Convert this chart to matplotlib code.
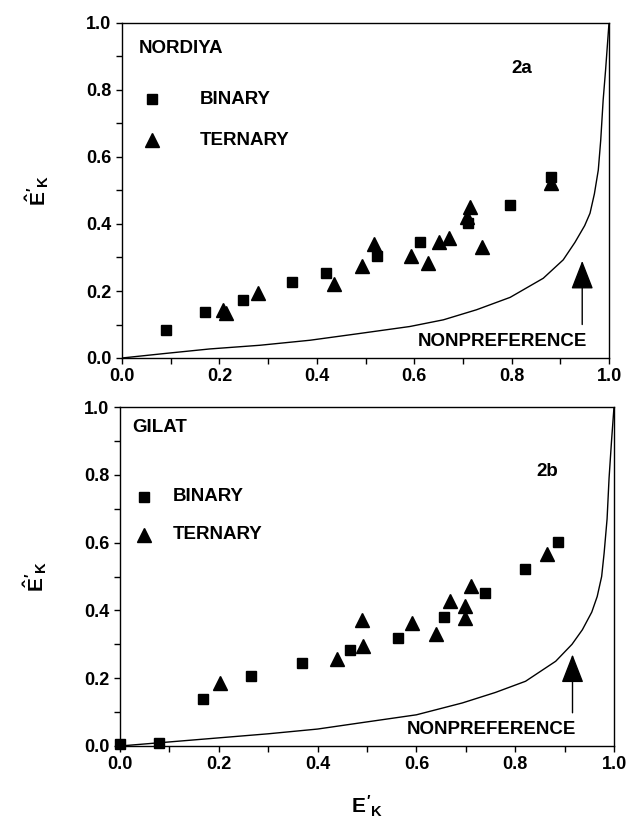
import matplotlib
matplotlib.use("Agg")
import matplotlib.pyplot as plt
from matplotlib.ticker import MultipleLocator, FormatStrFormatter

plt.rcParams["font.family"] = ["Liberation Sans", "DejaVu Sans"]
plt.rcParams["font.weight"] = "bold"
plt.rcParams["mathtext.fontset"] = "custom"
plt.rcParams["mathtext.rm"] = "Liberation Sans:bold"
plt.rcParams["mathtext.it"] = "Liberation Sans:bold"
plt.rcParams["mathtext.bf"] = "Liberation Sans:bold"

# --- panel 2a: NORDIYA ---
a_bin_x = [0.090, 0.170, 0.249, 0.350, 0.418, 0.523, 0.611, 0.710, 0.797, 0.880]
a_bin_y = [0.084, 0.136, 0.172, 0.228, 0.255, 0.305, 0.347, 0.402, 0.458, 0.541]
a_ter_x = [0.207, 0.214, 0.279, 0.435, 0.492, 0.518, 0.593, 0.628, 0.650, 0.671,
           0.709, 0.715, 0.740, 0.880]
a_ter_y = [0.142, 0.134, 0.194, 0.221, 0.276, 0.340, 0.304, 0.283, 0.345, 0.359,
           0.422, 0.452, 0.331, 0.523]
a_curve_x = [0.0, 0.085, 0.18, 0.283, 0.386, 0.482, 0.591, 0.66, 0.728, 0.797,
             0.865, 0.906, 0.93, 0.95, 0.961, 0.97, 0.978, 0.983, 0.988, 0.993, 1.0]
a_curve_y = [0.0, 0.013, 0.027, 0.038, 0.053, 0.072, 0.094, 0.114, 0.144, 0.181,
             0.238, 0.293, 0.345, 0.395, 0.432, 0.49, 0.561, 0.65, 0.77, 0.86, 1.0]

# --- panel 2b: GILAT ---
b_bin_x = [0.001, 0.079, 0.168, 0.266, 0.368, 0.465, 0.563, 0.656, 0.739, 0.819, 0.887]
b_bin_y = [0.007, 0.010, 0.139, 0.206, 0.245, 0.282, 0.319, 0.382, 0.451, 0.522, 0.603]
b_ter_x = [0.202, 0.439, 0.489, 0.492, 0.592, 0.639, 0.668, 0.698, 0.698, 0.710, 0.864]
b_ter_y = [0.186, 0.257, 0.371, 0.296, 0.363, 0.330, 0.428, 0.412, 0.377, 0.473, 0.566]
b_curve_x = [0.0, 0.1, 0.2, 0.3, 0.4, 0.49, 0.6, 0.693, 0.76, 0.821, 0.882,
             0.915, 0.936, 0.955, 0.966, 0.975, 0.98, 0.986, 0.99, 0.995, 1.0]
b_curve_y = [0.0, 0.012, 0.024, 0.036, 0.05, 0.069, 0.092, 0.127, 0.158, 0.191, 0.25,
             0.3, 0.343, 0.395, 0.441, 0.5, 0.569, 0.67, 0.79, 0.9, 1.0]

fig = plt.figure(figsize=(6.26, 8.23), dpi=100)
ax1 = fig.add_axes([122 / 626, 1 - 358 / 823, 487 / 626, 335 / 823])
ax2 = fig.add_axes([120 / 626, 1 - 746 / 823, 494 / 626, 339 / 823])

panels = [
    (ax1, a_bin_x, a_bin_y, a_ter_x, a_ter_y, a_curve_x, a_curve_y, "NORDIYA", "2a",
     dict(name=(0.034, 0.924), tag=(0.80, 0.864), mk_x=0.062, txt_x=0.16, rows=(0.773, 0.650),
          nonpref=(0.781, 0.05), arrow_x=0.945, arrow=(0.10, 0.29))),
    (ax2, b_bin_x, b_bin_y, b_ter_x, b_ter_y, b_curve_x, b_curve_y, "GILAT", "2b",
     dict(name=(0.024, 0.941), tag=(0.843, 0.809), mk_x=0.049, txt_x=0.107, rows=(0.735, 0.623),
          nonpref=(0.752, 0.049), arrow_x=0.916, arrow=(0.098, 0.27))),
]

fs = 13.5
for ax, bx, by, tx, ty, cx, cy, name, tag, pos in panels:
    ax.plot(cx, cy, color="black", lw=1.0, zorder=2)
    ax.plot(bx, by, linestyle="none", marker="s", ms=7.5, color="black", zorder=3,
            clip_on=False)
    ax.plot(tx, ty, linestyle="none", marker="^", ms=10, color="black", zorder=3,
            clip_on=False)

    ax.set_xlim(0, 1)
    ax.set_ylim(0, 1)
    ax.xaxis.set_major_locator(MultipleLocator(0.2))
    ax.yaxis.set_major_locator(MultipleLocator(0.2))
    ax.xaxis.set_minor_locator(MultipleLocator(0.1))
    ax.yaxis.set_minor_locator(MultipleLocator(0.1))
    ax.tick_params(which="both", direction="out", length=4, width=1, labelsize=13)
    ax.xaxis.set_major_formatter(FormatStrFormatter("%.1f"))
    ax.yaxis.set_major_formatter(FormatStrFormatter("%.1f"))
    for lab in ax.get_xticklabels() + ax.get_yticklabels():
        lab.set_fontweight("bold")
    for sp in ax.spines.values():
        sp.set_linewidth(1.0)

    ax.text(*pos["name"], name, transform=ax.transAxes, fontsize=fs, fontweight="bold",
            va="center", ha="left")
    ax.text(*pos["tag"], tag, transform=ax.transAxes, fontsize=fs, fontweight="bold",
            va="center", ha="left")
    ax.plot([pos["mk_x"]], [pos["rows"][0]], marker="s", ms=7.5, color="black",
            transform=ax.transAxes, clip_on=False)
    ax.plot([pos["mk_x"]], [pos["rows"][1]], marker="^", ms=10, color="black",
            transform=ax.transAxes, clip_on=False)
    ax.text(pos["txt_x"], pos["rows"][0], "BINARY", transform=ax.transAxes, fontsize=fs,
            fontweight="bold", va="center", ha="left")
    ax.text(pos["txt_x"], pos["rows"][1], "TERNARY", transform=ax.transAxes, fontsize=fs,
            fontweight="bold", va="center", ha="left")
    ax.text(*pos["nonpref"], "NONPREFERENCE", transform=ax.transAxes, fontsize=fs,
            fontweight="bold", va="center", ha="center")
    ax.annotate("", xy=(pos["arrow_x"], pos["arrow"][1]), xytext=(pos["arrow_x"], pos["arrow"][0]),
                arrowprops=dict(arrowstyle="-|>,head_length=1.8,head_width=0.7",
                                color="black", lw=1.0, shrinkA=0, shrinkB=0))

    ax.set_ylabel(r"$\hat{E}'_K$", fontsize=15, labelpad=25)

ax2.set_xlabel(r"$E'_K$", fontsize=15, labelpad=15)

fig.savefig("out.png", dpi=100)
